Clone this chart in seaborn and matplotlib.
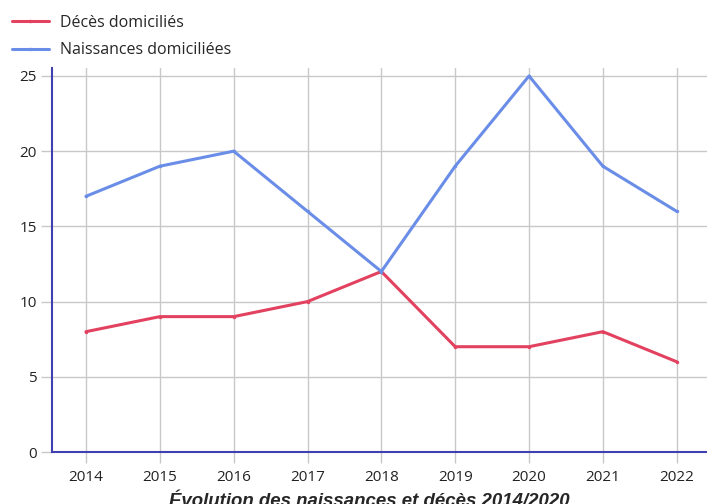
import numpy as np
import pandas as pd
import matplotlib
matplotlib.use("Agg")
import matplotlib.pyplot as plt
import seaborn as sns

years = [2014, 2015, 2016, 2017, 2018, 2019, 2020, 2021, 2022]
deces = [8, 9, 9, 10, 12, 7, 7, 8, 6]
naissances = [17, 19, 20, 16, 12, 19, 25, 19, 16]
series_names = ["Décès domiciliés", "Naissances domiciliées"]
colors = ["#e2425f", "#6a8de8"]
title = "Évolution des naissances et décès 2014/2020"

df = pd.DataFrame({
    "Année": years * 2,
    "Valeur": deces + naissances,
    "Série": [series_names[0]] * len(years) + [series_names[1]] * len(years),
})

sns.set_theme(style="white")
plt.rcParams["font.family"] = ["Open Sans", "DejaVu Sans"]

fig = plt.figure(figsize=(7.07, 5.04), dpi=100)
ax = fig.add_axes([52 / 707, 52 / 504, 1 - 52 / 707, (452 - 68) / 504])

sns.lineplot(data=df, x="Année", y="Valeur", hue="Série", palette=colors,
             linewidth=2.2, marker="o", markersize=2.5, markeredgewidth=0,
             ax=ax, legend=False)

ax.set_xlim(2013.54, 2022.41)
ax.set_ylim(0, 25.53)
ax.set_xticks(years)
ax.set_yticks([0, 5, 10, 15, 20, 25])
ax.grid(True, color="#c8c8c8", linewidth=1)
ax.set_axisbelow(True)
ax.set_xlabel("")
ax.set_ylabel("")
ax.tick_params(axis="both", labelsize=11, colors="#c8c8c8", labelcolor="#222222",
               length=8, width=1, pad=3, left=True, bottom=True)
ax.tick_params(axis="x", pad=5)
for side in ["top", "right"]:
    ax.spines[side].set_visible(False)
for side in ["left", "bottom"]:
    ax.spines[side].set_color("#3f3fb0")
    ax.spines[side].set_linewidth(1.5)

handles = [plt.Line2D([], [], color=c, linewidth=2.2, marker="o", markersize=2.5,
                      markeredgewidth=0) for c in colors]
fig.legend(handles, series_names, loc="upper left", bbox_to_anchor=(0.008, 0.983),
           frameon=False, fontsize=11.5, handlelength=2.3, handletextpad=0.7,
           labelspacing=0.7, borderaxespad=0)

fig.text(0.523, 0.004, title, ha="center", va="center", fontsize=13.4,
         fontweight="bold", fontstyle="italic", family=["Liberation Sans", "DejaVu Sans"])

fig.savefig("out.png", dpi=100)
